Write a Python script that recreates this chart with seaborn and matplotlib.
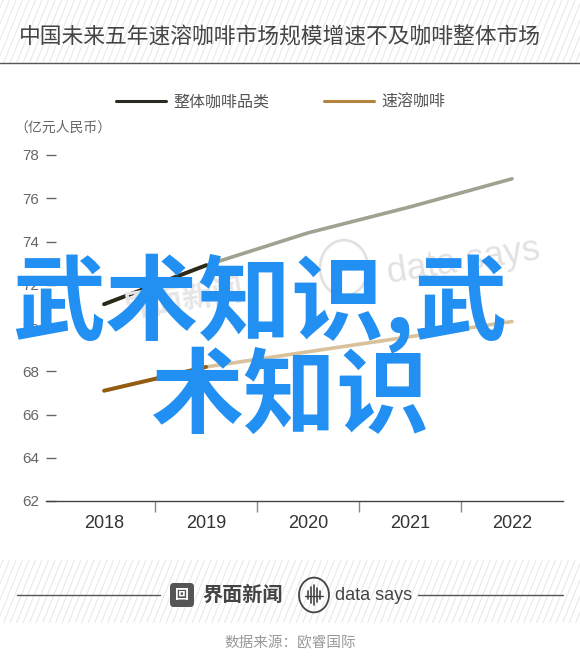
import numpy as np
import pandas as pd
import matplotlib
matplotlib.use("Agg")
import matplotlib.pyplot as plt
from matplotlib.lines import Line2D
from matplotlib.patches import Circle, FancyBboxPatch
import seaborn as sns

years = ["2018", "2019", "2020", "2021", "2022"]
total_coffee = [71.1, 72.9, 74.4, 75.6, 76.9]
instant_coffee = [67.1, 68.2, 68.9, 69.6, 70.3]
series_names = ["整体咖啡品类", "速溶咖啡"]
y_ticks = [62, 64, 66, 68, 70, 72, 74, 76, 78]

title = "中国未来五年速溶咖啡市场规模增速不及咖啡整体市场"
unit = "（亿元人民币）"
source = "数据来源：欧睿国际"
overlay = ["武术知识,武", "术知识"]

sns.set_theme(style="white")
plt.rcParams["font.family"] = ["Liberation Sans", "Noto Sans CJK SC", "DejaVu Sans"]

W, H = 580, 672
fig = plt.figure(figsize=(W / 100, H / 100), dpi=100)
fig.patch.set_facecolor("white")


def fx(px):
    return px / W


def fy(py):
    return 1 - py / H


def hatch_band(top, bottom):
    bax = fig.add_axes([0, fy(bottom), 1, (bottom - top) / H])
    bax.set_xlim(0, W)
    bax.set_ylim(0, bottom - top)
    bax.axis("off")
    h = bottom - top
    dx = h / np.tan(np.radians(68))
    for x0 in np.arange(-dx - 10, W + 10, 6.5):
        bax.plot([x0, x0 + dx], [0, h], color="#e6e6e6", lw=0.7)
    return bax


# header band
hatch_band(0, 63)
fig.add_artist(Line2D([0, 1], [fy(63), fy(63)], color="#555555", lw=1.0))
fig.text(fx(19), fy(38), title, fontsize=15.7, color="#444444", va="center", ha="left")

# legend
leg_handles = [Line2D([], [], color="#2b2a22", lw=2.2),
               Line2D([], [], color="#b4843f", lw=2.2)]
fig.legend(leg_handles, series_names, loc="center", bbox_to_anchor=(fx(281), fy(102)),
           ncol=2, frameon=False, fontsize=11.5, handlelength=3.1, columnspacing=3.4,
           handletextpad=0.5, labelcolor="#555555")
fig.text(fx(14), fy(128), unit, fontsize=10, color="#666666", va="center", ha="left")

# main chart
ax = fig.add_axes([fx(46), fy(501), fx(563) - fx(46), (501 - 155) / H])
df = pd.DataFrame({"year": years * 2,
                   "value": total_coffee + instant_coffee,
                   "series": [series_names[0]] * 5 + [series_names[1]] * 5})
sns.lineplot(data=df, x="year", y="value", hue="series", ax=ax,
             palette=["#a0a291", "#d9c29b"], linewidth=2.6, legend=False)
# first segments drawn darker
ax.plot(years[:2], total_coffee[:2], color="#2e2a1a", lw=2.8, solid_capstyle="round")
ax.plot(years[:2], instant_coffee[:2], color="#925c12", lw=2.8, solid_capstyle="round")

ax.set_xlim(-0.57, 4.5)
ax.set_ylim(62, 78)
ax.set_yticks(y_ticks)
ax.set_yticklabels([str(t) for t in y_ticks])
ax.set_xlabel("")
ax.set_ylabel("")
ax.set_xticks(range(len(years)))
ax.set_xticks([0.5, 1.5, 2.5, 3.5], minor=True)
ax.tick_params(axis="x", which="major", length=0, labelsize=13, labelcolor="#333333", pad=10)
ax.tick_params(axis="x", which="minor", length=8, width=1, color="#888888", direction="out", bottom=True)
ax.tick_params(axis="y", length=7, width=1, color="#666666", direction="in", left=True,
               labelsize=11, labelcolor="#666666", pad=5)
for side in ["top", "right", "left"]:
    ax.spines[side].set_visible(False)
ax.spines["bottom"].set_color("#444444")
ax.spines["bottom"].set_linewidth(1.0)
ax.set_facecolor("none")

# faint watermark logos in plot
fig.text(fx(385), fy(262), "data says", fontsize=26, color="#e2e2e2", rotation=9,
         va="center", ha="left")
fig.add_artist(Circle((fx(344), fy(268)), 24 / W, transform=fig.transFigure,
                      fill=False, ec="#e2e2e2", lw=2))
fig.text(fx(120), fy(300), "界面新闻", fontsize=22, color="#e6e6e6", rotation=9,
         va="center", ha="left", fontweight="bold")

# big blue overlay text
fig.text(fx(12), fy(303), overlay[0], fontsize=67, color="#2290f2", fontweight="bold",
         va="center", ha="left", family=["Noto Sans CJK SC"])
fig.text(fx(151), fy(398), overlay[1], fontsize=67, color="#2290f2", fontweight="bold",
         va="center", ha="left", family=["Noto Sans CJK SC"])

# footer band
hatch_band(560, 623)
fig.add_artist(Line2D([fx(17), fx(160)], [fy(595), fy(595)], color="#555555", lw=1.0))
fig.add_artist(Line2D([fx(418), fx(563)], [fy(595), fy(595)], color="#555555", lw=1.0))
fig.add_artist(FancyBboxPatch((fx(170), fy(607)), 24 / W, 24 / H, transform=fig.transFigure,
                              boxstyle="round,pad=0,rounding_size=0.006", fc="#555555", ec="none"))
fig.text(fx(182), fy(595), "回", fontsize=10, color="white", ha="center", va="center", fontweight="bold")
fig.text(fx(202), fy(595), "界面新闻", fontsize=14.5, color="#444444", fontweight="bold",
         ha="left", va="center")
fig.add_artist(Circle((fx(314), fy(595)), 15 / W, transform=fig.transFigure,
                      fill=False, ec="#444444", lw=1.3))
# small wave-bars inside the circular logo
for off, half in [(-6, 4), (-3, 8), (0, 10), (3, 7), (6, 4)]:
    fig.add_artist(Line2D([fx(314 + off)] * 2, [fy(595 - half), fy(595 + half)],
                          color="#444444", lw=1.2))
fig.add_artist(Line2D([fx(305), fx(323)], [fy(596), fy(596)], color="#444444", lw=1.0))
fig.text(fx(335), fy(595), "data says", fontsize=13, color="#444444", ha="left", va="center")
fig.text(fx(290), fy(643), source, fontsize=10.5, color="#999999", ha="center", va="center")

fig.savefig("out.png", dpi=100, facecolor="white")
